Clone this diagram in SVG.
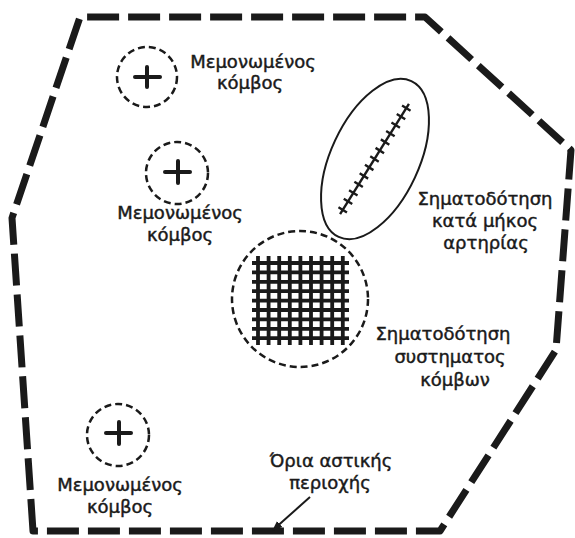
<svg xmlns="http://www.w3.org/2000/svg" width="575" height="538" viewBox="0 0 575 538">
<defs>
<marker id="ah" viewBox="0 0 10 10" refX="9" refY="5" markerWidth="10" markerHeight="10" markerUnits="userSpaceOnUse" orient="auto">
<path d="M0,1 L10,5 L0,9 Z" fill="#1a1a1a"/>
</marker>
</defs>
<style>
.bd{fill:none;stroke:#1a1a1a;stroke-width:7;stroke-dasharray:32 9;stroke-linejoin:round}
.nc{fill:none;stroke:#1a1a1a;stroke-width:2.5;stroke-dasharray:7 4}
.pl{stroke:#1a1a1a;stroke-width:4;stroke-linecap:round}
.lb{font-family:"DejaVu Sans","Noto Sans",sans-serif;font-size:18px;fill:#1a1a1a;stroke:#1a1a1a;stroke-width:0.45;text-anchor:middle}
.th{fill:none;stroke:#1a1a1a;stroke-width:2}
.gr{stroke:#1a1a1a;stroke-width:3.8}
.tk{stroke:#1a1a1a;stroke-width:2.4}
</style>
<rect width="575" height="538" fill="#fff"/>
<g id="boundary">
<polygon class="bd" points="33,531 12,218 80,17 425,17 571,150 556,350 440,531"/>
</g>
<g id="node1">
<circle class="nc" cx="147" cy="77" r="30"/>
<line class="pl" x1="135" y1="77" x2="160" y2="77"/>
<line class="pl" x1="147" y1="67" x2="147" y2="87"/>
<text class="lb" x="253" y="68">Μεμονωμένος</text>
<text class="lb" x="250" y="89">κόμβος</text>
</g>
<g id="node2">
<circle class="nc" cx="177" cy="173" r="31"/>
<line class="pl" x1="165" y1="172" x2="190" y2="172"/>
<line class="pl" x1="178" y1="161" x2="178" y2="183"/>
<text class="lb" x="180" y="219">Μεμονωμένος</text>
<text class="lb" x="180" y="241">κόμβος</text>
</g>
<g id="node3">
<circle class="nc" cx="118" cy="435" r="31"/>
<line class="pl" x1="106" y1="433" x2="131" y2="433"/>
<line class="pl" x1="119" y1="422" x2="119" y2="444"/>
<text class="lb" x="120" y="491">Μεμονωμένος</text>
<text class="lb" x="120" y="513">κόμβος</text>
</g>
<g id="artery">
<ellipse class="th" cx="375" cy="159" rx="44" ry="86" transform="rotate(25 375 159)"/>
<g transform="translate(374.5 159) rotate(32)">
<line class="tk" x1="0" y1="-65" x2="0" y2="65"/>
<path class="tk" d="M-5,-60h10M-5,-50h10M-5,-40h10M-5,-30h10M-5,-20h10M-5,-10h10M-5,0h10M-5,10h10M-5,20h10M-5,30h10M-5,40h10M-5,50h10M-5,60h10"/>
</g>
<text class="lb" x="485" y="205">Σηματοδότηση</text>
<text class="lb" x="485" y="227">κατά μήκος</text>
<text class="lb" x="486" y="249">αρτηρίας</text>
</g>
<g id="network">
<circle class="nc" cx="300" cy="299" r="68" stroke-dasharray="10 4"/>
<path class="gr" d="M258,256V345M268.6,256V345M279.2,256V345M289.8,256V345M300.4,256V345M311,256V345M321.6,256V345M332.2,256V345M342.8,256V345"/>
<path class="gr" d="M252,263H349M252,272.4H349M252,281.8H349M252,291.2H349M252,300.6H349M252,310H349M252,319.4H349M252,328.8H349M252,338.2H349"/>
<text class="lb" x="443" y="340">Σηματοδότηση</text>
<text class="lb" x="450" y="363">συστηματος</text>
<text class="lb" x="455" y="386">κόμβων</text>
</g>
<g id="boundary-label">
<text class="lb" x="331" y="467">Όρια αστικής</text>
<text class="lb" x="330" y="489">περιοχής</text>
</g>
<g id="connectors">
<line x1="310" y1="497" x2="273" y2="530" stroke="#1a1a1a" stroke-width="2" marker-end="url(#ah)"/>
</g>
</svg>
